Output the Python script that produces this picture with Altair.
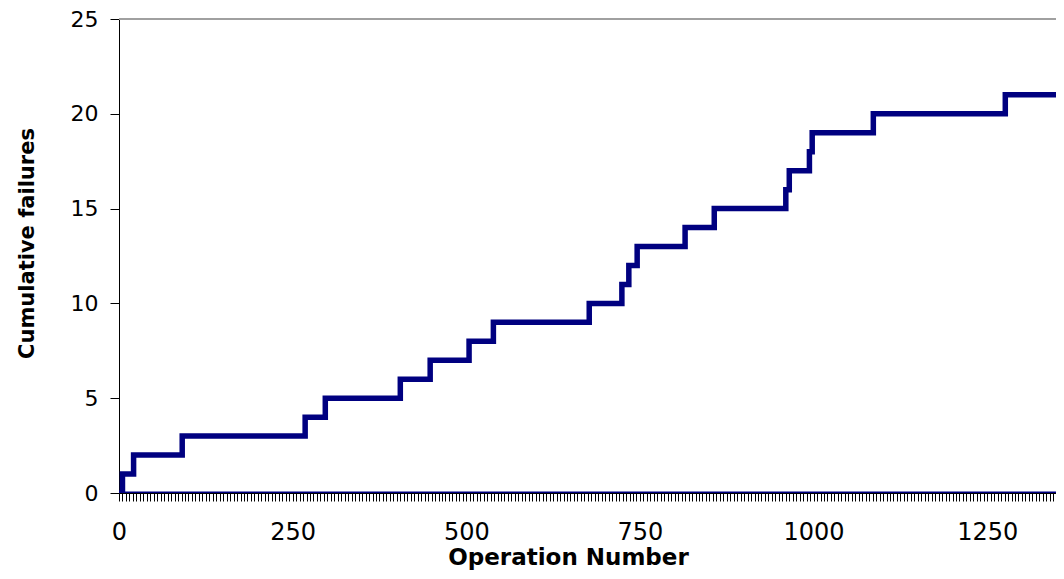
import altair as alt
import pandas as pd

# Operation numbers at which the cumulative failure count steps up
step_ops = [0, 5, 21, 91, 268, 297, 405, 448, 504, 539, 677, 724, 734, 746,
            815, 857, 960, 965, 994, 998, 1086, 1276, 1349]
cum_failures = [0, 1, 2, 3, 4, 5, 6, 7, 8, 9, 10, 11, 12, 13,
                14, 15, 16, 17, 18, 19, 20, 21, 21]

# Baseline series (zeros) across the operations range
zero_ops = [0, 1349]
zero_vals = [0, 0]

x_max = 1349
x_tick_values = list(range(0, 1350, 5))
y_tick_values = [0, 5, 10, 15, 20, 25]

NAVY = "#000080"
FONT = "DejaVu Sans"

df_step = pd.DataFrame({"op": step_ops, "cum": cum_failures})
df_zero = pd.DataFrame({"op": zero_ops, "cum": zero_vals})

x_scale = alt.Scale(domain=[0, x_max], nice=False, zero=False)
y_scale = alt.Scale(domain=[0, 25], nice=False)

x_axis = alt.Axis(
    values=x_tick_values,
    labelExpr="(datum.value % 250 === 0) ? datum.label : ''",
    format="d",
    labelOverlap=False,
    labelFlush=False,
    tickSize=8,
    tickColor="black",
    tickWidth=1,
    domainColor="black",
    labelFont=FONT,
    labelFontSize=24,
    labelColor="black",
    labelPadding=19,
    grid=False,
    title="Operation Number",
    titleFont=FONT,
    titleFontSize=23,
    titleFontWeight="bold",
    titleColor="black",
    titleX=449,
    titleY=71,
    titleAnchor="middle",
    titleBaseline="alphabetic",
)

y_axis = alt.Axis(
    values=y_tick_values,
    format="d",
    tickSize=9,
    tickColor="black",
    domainColor="black",
    labelFont=FONT,
    labelFontSize=22,
    labelColor="black",
    labelPadding=12,
    grid=False,
    title="Cumulative failures",
    titleFont=FONT,
    titleFontSize=21,
    titleFontWeight="bold",
    titleColor="black",
    titleX=-92,
    titleY=224,
    titleAngle=270,
    titleAnchor="middle",
    titleBaseline="middle",
)

base_x = alt.X("op:Q", scale=x_scale, axis=x_axis)
base_y = alt.Y("cum:Q", scale=y_scale, axis=y_axis)

top_border = alt.Chart(pd.DataFrame({"cum": [25]})).mark_rule(
    color="#a0a0a0", strokeWidth=2
).encode(y=alt.Y("cum:Q", scale=y_scale, axis=y_axis))

zero_line = alt.Chart(df_zero).mark_line(
    color=NAVY, strokeWidth=3, clip=True
).encode(x=base_x, y=base_y)

step_line = alt.Chart(df_step).mark_line(
    color=NAVY, strokeWidth=5.5, interpolate="step-after", clip=True,
    strokeJoin="miter"
).encode(x=base_x, y=base_y)

chart = alt.layer(top_border, zero_line, step_line).properties(
    width=937,
    height=474,
    autosize=alt.AutoSizeParams(type="none"),
    padding={"left": 111, "top": 11, "right": 0, "bottom": 78},
    background="white",
).configure_view(stroke=None)

chart.save("out.html", embed_options={"renderer": "svg", "actions": False})
